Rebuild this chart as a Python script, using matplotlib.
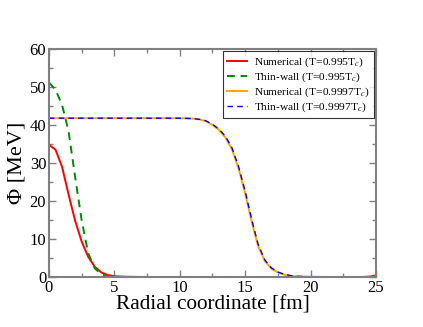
import matplotlib
matplotlib.use("Agg")
import matplotlib.pyplot as plt
from matplotlib.ticker import MultipleLocator

plt.rcParams.update({
    "font.family": ["Liberation Serif", "DejaVu Serif"],
    "mathtext.fontset": "stix",
    "font.size": 10,
})

# ---- data ----
r_num1 = [0, 0.5, 1, 1.5, 2, 2.5, 3, 3.5, 4, 4.5, 5, 5.5, 6, 7, 10, 15, 20, 24, 24.5, 25]
phi_num1 = [34.8, 33.5, 29.0, 21.7, 14.8, 9.3, 5.3, 2.7, 1.2, 0.5, 0.2, 0.1, 0.05, 0.0, 0.0, 0.0, 0.0, 0.0, 0.1, 0.4]

r_tw1 = [0, 0.5, 1, 1.5, 2, 2.5, 3, 3.5, 4, 4.5, 5, 6, 10, 15, 20, 25]
phi_tw1 = [51.2, 49.3, 45.3, 38.3, 26.3, 14.9, 6.2, 2.3, 0.7, 0.2, 0.05, 0.0, 0.0, 0.0, 0.0, 0.0]

r_num2 = [0, 5, 10, 11, 11.5, 12, 12.5, 13, 13.5, 14, 14.5, 15, 15.5, 16, 16.5, 17, 17.5, 18, 18.5, 19, 20, 21, 25]
phi_num2 = [41.8, 41.8, 41.8, 41.7, 41.5, 41.0, 40.0, 38.7, 36.7, 33.5, 28.5, 22.0, 14.5, 8.0, 4.2, 2.2, 1.2, 0.6, 0.3, 0.15, 0.05, 0.0, 0.0]

r_tw2 = [0, 5, 10, 11, 11.5, 12, 12.5, 13, 13.5, 14, 14.5, 15, 15.5, 16, 16.5, 17, 17.5, 18, 18.5, 19, 20, 21, 25]
phi_tw2 = [41.8, 41.8, 41.8, 41.7, 41.5, 41.1, 40.2, 38.9, 37.0, 33.9, 29.0, 22.6, 15.1, 8.5, 4.5, 2.4, 1.3, 0.7, 0.35, 0.17, 0.05, 0.0, 0.0]

labels = [
    r"Numerical (T=0.995T$_c$)",
    r"Thin-wall (T=0.995T$_c$)",
    r"Numerical (T=0.9997T$_c$)",
    r"Thin-wall (T=0.9997T$_c$)",
]

fig = plt.figure(figsize=(4.23, 3.27), dpi=100)
ax = fig.add_axes([0.1158, 0.153, 0.7730, 0.697])

ax.plot(r_num1, phi_num1, color="#ff0000", lw=1.4, label=labels[0])
ax.plot(r_tw1, phi_tw1, color="#008b00", lw=1.4, ls=(0, (4, 3)), label=labels[1])
ax.plot(r_num2, phi_num2, color="#ffa500", lw=1.4, label=labels[2])
ax.plot(r_tw2, phi_tw2, color="#0000ff", lw=1.0, ls=(0, (4, 3)), label=labels[3])

ax.set_xlim(0, 25)
ax.set_ylim(0, 60)
ax.xaxis.set_major_locator(MultipleLocator(5))
ax.xaxis.set_minor_locator(MultipleLocator(2.5))
ax.yaxis.set_major_locator(MultipleLocator(10))
ax.yaxis.set_minor_locator(MultipleLocator(5))

for s in ax.spines.values():
    s.set_color("#808080")
    s.set_linewidth(1.5)
ax.tick_params(which="both", direction="in", top=True, right=True,
               color="#808080", labelsize=12)
ax.tick_params(which="major", length=5, width=1.0, pad=2)
ax.tick_params(which="minor", length=3, width=1.0)

ax.set_xlabel("Radial coordinate [fm]", fontsize=15.3, labelpad=0)
ax.set_ylabel("Φ [MeV]", fontsize=16, labelpad=2)

leg = ax.legend(loc="upper right", fontsize=8.2, frameon=True, fancybox=False,
                borderpad=0.35, labelspacing=0.15, handlelength=1.8,
                handletextpad=0.6, borderaxespad=0.2)
leg.get_frame().set_edgecolor("black")
leg.get_frame().set_linewidth(0.8)

fig.savefig("out.png", dpi=100)
